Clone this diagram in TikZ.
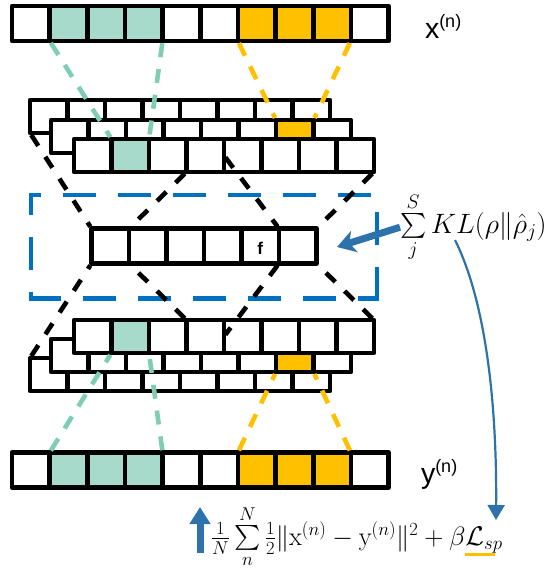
\RequirePackage{fix-cm}
\documentclass[tikz,border=0pt]{standalone}
\usepackage{amsmath}
\usepackage{fontspec}
\newfontfamily\arialf{Liberation Sans}
\usetikzlibrary{arrows.meta}
\definecolor{tealfill}{HTML}{A8DACB}
\definecolor{tealline}{HTML}{7ECDB4}
\definecolor{orng}{HTML}{FFC000}
\definecolor{boxblue}{HTML}{0070C0}
\definecolor{arrblue}{HTML}{2E72AC}
\begin{document}
\begin{tikzpicture}[x=1pt,y=-1pt,line join=round,
 cell/.style={rectangle,draw=black,line width=4.6pt,inner sep=0pt,outer sep=0pt,
   minimum width=37.5pt,minimum height=33pt,anchor=north west},
 bigcell/.style={cell,minimum width=37.65pt,minimum height=35pt},
 fcell/.style={cell,minimum height=35pt},
 blackdash/.style={draw=black,line width=4.6pt,dash pattern=on 13pt off 13pt,
   shorten <=2.3pt,shorten >=2.3pt},
 tealdash/.style={draw=tealline,line width=4.6pt,dash pattern=on 14pt off 12pt,
   shorten <=2.3pt,shorten >=2.3pt},
 orangedash/.style={draw=orng,line width=4.6pt,dash pattern=on 14pt off 12pt,
   shorten <=2.3pt,shorten >=2.3pt},
 boxedge/.style={draw=boxblue,line width=4.8pt},
 lbl/.style={inner sep=0pt,outer sep=0pt,anchor=base west},
 bluearrow/.style={draw=arrblue,line width=7pt},
]
\useasboundingbox (0,0) rectangle (550,568);
% input row
\foreach \i/\col in {0/white,1/tealfill,2/tealfill,3/tealfill,4/white,5/white,6/orng,7/orng,8/orng,9/white}
  \node[bigcell,fill=\col] (t\i) at ({12+37.65*\i},6) {};
% encoder stack
\foreach \i in {0,...,7}
  \node[cell,fill=white] (a\i) at ({30+37.5*\i},100) {};
\foreach \i/\col in {0/white,1/white,2/white,3/white,4/white,5/white,6/orng,7/white}
  \node[cell,fill=\col] (b\i) at ({51+37.5*\i},120) {};
\foreach \i/\col in {0/white,1/tealfill,2/white,3/white,4/white,5/white,6/white,7/white}
  \node[cell,fill=\col] (c\i) at ({74+37.5*\i},139) {};
% code row
\foreach \i in {0,...,5}
  \node[fcell,fill=white] (f\i) at ({91.5+37.5*\i},228.5) {};
% decoder stack
\foreach \i in {0,...,7}
  \node[cell,fill=white] (da\i) at ({30+37.5*\i},358) {};
\foreach \i/\col in {0/white,1/white,2/white,3/white,4/white,5/white,6/orng,7/white}
  \node[cell,fill=\col] (db\i) at ({51+37.5*\i},339) {};
\foreach \i/\col in {0/white,1/tealfill,2/white,3/white,4/white,5/white,6/white,7/white}
  \node[cell,fill=\col] (dc\i) at ({74+37.5*\i},320) {};
% output row
\foreach \i/\col in {0/white,1/tealfill,2/tealfill,3/tealfill,4/white,5/white,6/orng,7/orng,8/orng,9/white}
  \node[bigcell,fill=\col] (u\i) at ({12+37.65*\i},452.5) {};
% blue dashed box
\coordinate (bxtl) at (31,195);
\coordinate (bxtr) at (377,195);
\coordinate (bxbr) at (377,298.5);
\coordinate (bxbl) at (31,298.5);
\draw[boxedge,dash pattern=on 33pt off 22pt,dash phase=20.6pt] ([xshift=-2.4pt]bxtl) -- ([xshift=2.4pt]bxtr);
\draw[boxedge,dash pattern=on 33pt off 22pt,dash phase=35.6pt] ([yshift=2.4pt]bxtr) -- ([yshift=-2.4pt]bxbr);
\draw[boxedge,dash pattern=on 33pt off 22pt,dash phase=11.6pt] ([xshift=2.4pt]bxbr) -- ([xshift=-2.4pt]bxbl);
\draw[boxedge,dash pattern=on 33pt off 22pt,dash phase=24.1pt] ([yshift=-2.4pt]bxbl) -- ([yshift=2.4pt]bxtl);
% receptive field lines, top
\draw[tealdash] (t1.south west) -- (c1.north west);
\draw[tealdash] (t3.south east) -- (c1.north east);
\draw[orangedash] (t6.south west) -- (b6.north west);
\draw[orangedash] (t8.south east) -- (b6.north east);
% encoder to code
\draw[blackdash] (a0.south west) -- (f0.north west);
\draw[blackdash] (c3.south west) -- (f1.north west);
\draw[blackdash] (c4.west) -- (f5.north west);
\draw[blackdash] (c7.south east) -- (f5.north east);
% code to decoder
\draw[blackdash] (dc3.north west) -- (f1.south west);
\draw[blackdash] (da0.north west) -- (f0.south west);
\draw[blackdash] (f5.south west) -- (dc4.west);
\draw[blackdash] (dc7.north east) -- (f5.south east);
% receptive field lines, bottom
\draw[tealdash] (u1.north west) -- (dc1.south west);
\draw[tealdash] (u3.north east) -- (dc1.south east);
\draw[orangedash] (u6.north west) -- (db6.south west);
\draw[orangedash] (u8.north east) -- (db6.south east);
% labels
\node[lbl] (xlab) at (425,38) {\arialf\fontsize{28.5}{30}\selectfont x\raisebox{11pt}{\fontsize{18}{20}\selectfont(n)}};
\node[lbl] (ylab) at (421,483) {\arialf\fontsize{28.5}{30}\selectfont y\raisebox{11pt}{\fontsize{18}{20}\selectfont(n)}};
\node[inner sep=0pt] (flab) at ([yshift=-2.5pt]f4.center) {\arialf\bfseries\fontsize{17}{20}\selectfont f};
\node[lbl] (kl) at (400,233) {\fontsize{28}{33}\selectfont$\sum\limits_{j}^{S} KL(\rho\|\hat{\rho}_j)$};
\node[lbl] (loss) at (211,545) {\fontsize{26.5}{30}\selectfont$\frac{1}{N}\sum\limits_{n}^{N}\frac{1}{2}\|\mathrm{x}^{(n)}-\mathrm{y}^{(n)}\|^2+\beta$};
\node[lbl] (lsp) at (loss.base east) {\fontsize{27}{30}\selectfont$\mathcal{L}_{sp}$};
\draw[orng,line width=3pt] ([yshift=-2pt]lsp.south west) -- ([xshift=30pt,yshift=-2pt]lsp.south west);
% arrows
\coordinate (kltip) at (337,247);
\draw[bluearrow,-{Stealth[length=18pt,width=22pt,inset=5pt]}] (kl.west) -- (kltip);
\coordinate (upb) at (200,553);
\coordinate (upt) at (200,507);
\draw[bluearrow,-{Triangle[length=17pt,width=20pt]}] (upb) -- (upt);
\coordinate (cst) at (455,240);
\coordinate (ctip) at (496,520);
\draw[draw=arrblue,line width=2.2pt,-{Triangle[length=15pt,width=17pt]}] (cst) .. controls (485,300) and (497,400) .. (ctip);
\end{tikzpicture}
\end{document}
